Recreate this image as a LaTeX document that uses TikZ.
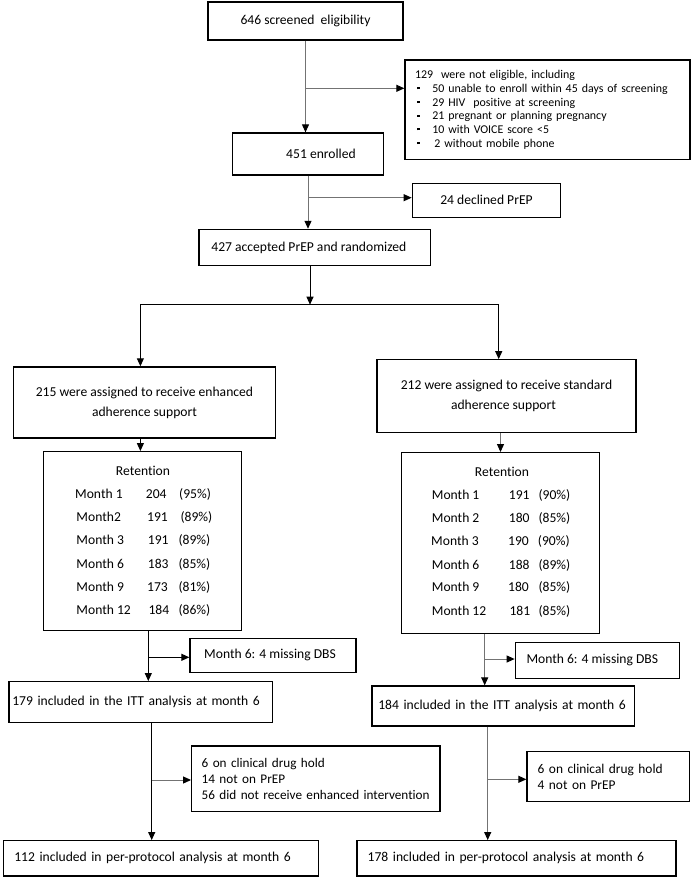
\documentclass[tikz,border=0pt]{standalone}
\usepackage{fontspec}
\setmainfont{Carlito}[Ligatures=NoCommon]
\usetikzlibrary{arrows.meta}
\newcommand\sqb{\raisebox{3bp}{\rule{2.2bp}{2.2bp}}}
\begin{document}
\begin{tikzpicture}[x=1bp,y=-1bp,
  box/.style={draw=black,line width=1.3bp,rectangle,inner sep=0pt,font=\fontsize{13.6bp}{16bp}\selectfont},
  lbox/.style={box,align=left},
  arr/.style={line width=1bp,-{Triangle[length=8bp,width=7bp,color=black]}},
  ln/.style={line width=1bp},
  gry/.style={draw=black!55},
  cell/.style={anchor=base west,inner sep=0pt,font=\fontsize{13.6bp}{16bp}\selectfont}]
\useasboundingbox (0,0) rectangle (692,879);

% boxes
\node[box,minimum width=195bp,minimum height=38bp] (b1) at (305.5,21) {646 screened\ \ eligibility};
\node[lbox,font=\fontsize{11.9bp}{13.7bp}\selectfont,text width=265bp,inner xsep=10bp,minimum height=99.3bp] (b129) at (547.5,109.7)
 {\mbox{129\ \ were not eligible, including}\\
  \mbox{\hspace*{2.3bp}\makebox[15bp][l]{\sqb}50 unable to enroll within 45 days of screening}\\
  \mbox{\hspace*{2.3bp}\makebox[15bp][l]{\sqb}29 HIV\ \ positive at screening}\\
  \mbox{\hspace*{2.3bp}\makebox[15bp][l]{\sqb}21 pregnant or planning pregnancy}\\
  \mbox{\hspace*{2.3bp}\makebox[15bp][l]{\sqb}10 with VOICE score <5}\\
  \mbox{\hspace*{2.3bp}\makebox[17bp][l]{\sqb}2 without mobile phone}};
\node[box,minimum width=150.6bp,minimum height=42bp] (b451) at (308,154) {\hspace*{26bp}451 enrolled};
\node[box,minimum width=148.4bp,minimum height=34bp] (b24) at (486.5,200.3) {24 declined PrEP};
\node[box,minimum width=231.7bp,minimum height=36bp] (b427) at (314.85,247.4) {427 accepted PrEP and randomized\hspace*{12bp}};
\node[box,align=center,minimum width=262.3bp,minimum height=71.1bp,font=\fontsize{13.6bp}{20bp}\selectfont] (b215) at (144.45,402.45)
 {215 were assigned to receive enhanced\\adherence support};
\node[box,align=center,minimum width=259.1bp,minimum height=72.9bp,font=\fontsize{13.6bp}{20bp}\selectfont] (b212) at (506.45,396.25)
 {212 were assigned to receive standard\\adherence support\hspace*{6bp}};

\node[box,minimum width=198bp,minimum height=179bp] (retL) at (142.3,541.2) {};
\node[box,minimum width=197.6bp,minimum height=180.6bp] (retR) at (500.5,543) {};

% left retention table
\node[cell,anchor=base] (lR) at (143,475) {Retention};
\node[cell] (l1a) at (75,498.3) {Month 1};   \node[cell] (l1b) at (145.7,498.3) {204}; \node[cell] (l1c) at (179,498.3) {(95\%)};
\node[cell] (l2a) at (76.3,521.7) {Month2};  \node[cell] (l2b) at (147,521.7) {191};   \node[cell] (l2c) at (180.3,521.7) {(89\%)};
\node[cell] (l3a) at (76.3,544.5) {Month 3}; \node[cell] (l3b) at (147.7,544.5) {191}; \node[cell] (l3c) at (178.3,544.5) {(89\%)};
\node[cell] (l4a) at (76.3,568.3) {Month 6}; \node[cell] (l4b) at (147.7,568.3) {183}; \node[cell] (l4c) at (178.3,568.3) {(85\%)};
\node[cell] (l5a) at (76.3,591) {Month 9};   \node[cell] (l5b) at (147,591) {173};     \node[cell] (l5c) at (178.3,591) {(81\%)};
\node[cell] (l6a) at (76.3,614.3) {Month 12};\node[cell] (l6b) at (148.3,614.3) {184}; \node[cell] (l6c) at (178.3,614.3) {(86\%)};

% right retention table
\node[cell,anchor=base] (rR) at (502,476) {Retention};
\node[cell] (r1a) at (431.7,499) {Month 1};   \node[cell] (r1b) at (508.7,499) {191};   \node[cell] (r1c) at (538.3,499) {(90\%)};
\node[cell] (r2a) at (431.7,522.7) {Month 2}; \node[cell] (r2b) at (508.7,522.7) {180}; \node[cell] (r2c) at (538.3,522.7) {(85\%)};
\node[cell] (r3a) at (431,545) {Month 3};     \node[cell] (r3b) at (508,545) {190};     \node[cell] (r3c) at (537.7,545) {(90\%)};
\node[cell] (r4a) at (431.7,569) {Month 6};   \node[cell] (r4b) at (508.7,569) {188};   \node[cell] (r4c) at (538.3,569) {(89\%)};
\node[cell] (r5a) at (431.7,591.7) {Month 9}; \node[cell] (r5b) at (508,591.7) {180};   \node[cell] (r5c) at (538.3,591.7) {(85\%)};
\node[cell] (r6a) at (431.7,615.7) {Month 12};\node[cell] (r6b) at (509.3,615.7) {181}; \node[cell] (r6c) at (538.3,615.7) {(85\%)};

\node[box,minimum width=166bp,minimum height=34.2bp] (dbsL) at (273,655.4) {Month 6: 4 missing DBS\hspace*{6bp}};
\node[box,minimum width=164bp,minimum height=36bp] (dbsR) at (597.3,660.3) {Month 6: 4 missing DBS\hspace*{10bp}};
\node[lbox,text width=257.1bp,inner xsep=3.3bp,minimum height=41bp] (ittL) at (140.85,702.2) {\mbox{179 included in the ITT analysis at month 6}};
\node[lbox,text width=249.7bp,inner xsep=6.3bp,minimum height=40bp] (ittR) at (503.15,706) {\mbox{184 included in the ITT analysis at month 6}};
\node[lbox,font=\fontsize{13.2bp}{15.7bp}\selectfont,text width=228.3bp,inner xsep=10bp,minimum height=65.7bp] (clinL) at (315.85,778.85)
 {\mbox{6 on clinical drug hold}\\\mbox{14 not on PrEP}\\\mbox{56 did not receive enhanced intervention}};
\node[lbox,font=\fontsize{13.4bp}{15.7bp}\selectfont,text width=140.9bp,inner xsep=10.7bp,minimum height=50bp] (clinR) at (608.15,776.7)
 {\mbox{6 on clinical drug hold}\\\mbox{4 not on PrEP}};
\node[lbox,text width=293bp,inner xsep=11bp,minimum height=35.3bp] (ppL) at (160.8,858.35) {\mbox{112 included in per-protocol analysis at month 6}};
\node[lbox,text width=297.6bp,inner xsep=10.7bp,minimum height=35.3bp] (ppR) at (516.5,858.35) {\mbox{178 included in per-protocol analysis at month 6}};

% connectors
\coordinate (j1) at (305.5,88.3);
\draw[arr,gry] (b1.south) -- (b1.south |- b451.north);
\draw[arr,gry] (j1) -- (j1 -| b129.west);

\coordinate (j2) at (308,197.7);
\draw[arr,gry] (b451.south) -- (b451.south |- b427.north);
\draw[arr,gry] (j2) -- (j2 -| b24.west);

\coordinate (sp) at (310,304.7);
\coordinate (sL) at (140.4,304.7);
\coordinate (sR) at (498.7,304.7);
\draw[arr] (b427.south -| sp) -- (sp);
\draw[ln] (sL) -- (sR);
\draw[arr] (sL) -- (sL |- b215.north);
\draw[arr] (sR) -- (sR |- b212.north);

\draw[arr] (b215.south -| sL) -- (retL.north -| sL);
\draw[arr,gry] (b212.south -| retR.north) -- (retR.north);

\coordinate (j6) at (148.3,657.3);
\draw[arr] (retL.south -| j6) -- (ittL.north -| j6);
\draw[arr] (j6) -- (j6 -| dbsL.west);

\coordinate (j7) at (484.7,659);
\draw[arr,gry] (retR.south -| j7) -- (ittR.north -| j7);
\draw[arr,gry] (j7) -- (j7 -| dbsR.west);

\coordinate (j8) at (151.7,780);
\draw[arr] (ittL.south -| j8) -- (ppL.north -| j8);
\draw[arr,gry] (j8) -- (j8 -| clinL.west);

\coordinate (j9) at (487.7,779.3);
\draw[arr,gry] (ittR.south -| j9) -- (ppR.north -| j9);
\draw[arr,gry] (j9) -- (j9 -| clinR.west);
\end{tikzpicture}
\end{document}
